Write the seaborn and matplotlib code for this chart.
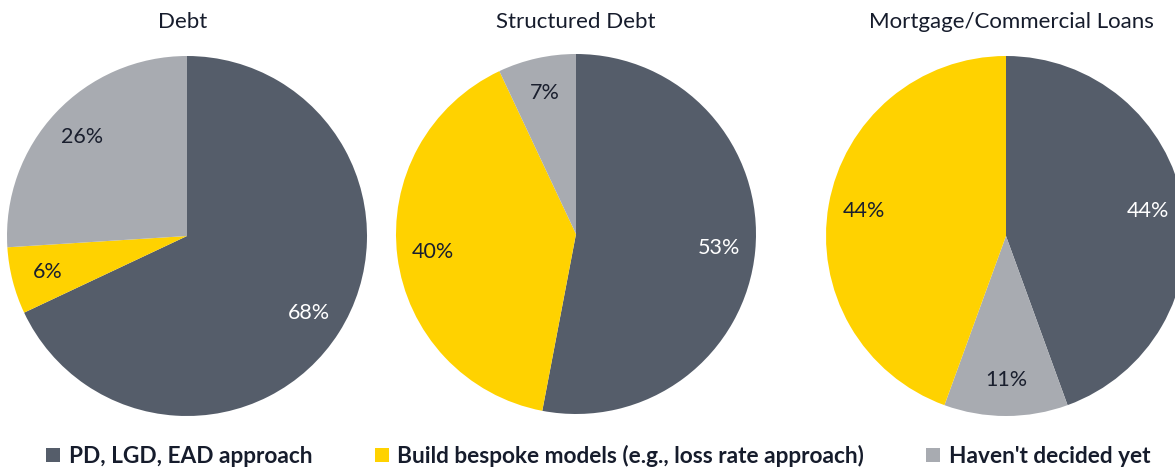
import matplotlib
matplotlib.use("Agg")
import matplotlib.pyplot as plt
import seaborn as sns
from matplotlib.lines import Line2D

sns.set_theme(style="white")
plt.rcParams['font.family'] = ['Lato', 'DejaVu Sans']

categories = ["PD, LGD, EAD approach", "Build bespoke models (e.g., loss rate approach)", "Haven't decided yet"]
titles = ["Debt", "Structured Debt", "Mortgage/Commercial Loans"]
debt = [68, 6, 26]
structured = [53, 40, 7]
mortgage = [44, 44, 11]
series = [debt, structured, mortgage]

palette = {"PD, LGD, EAD approach": "#555d6a",
           "Build bespoke models (e.g., loss rate approach)": "#ffd200",
           "Haven't decided yet": "#a8abb1"}
label_colors = {"PD, LGD, EAD approach": "white",
                "Build bespoke models (e.g., loss rate approach)": "#1a1f2e",
                "Haven't decided yet": "#1a1f2e"}
# drawing order per chart (clockwise from 12 o'clock)
orders = [[0, 1, 2], [0, 1, 2], [0, 2, 1]]
text_color = "#161c2c"

W, H = 1175, 470
fig = plt.figure(figsize=(W / 100, H / 100), dpi=100)
centers = [(187, 236), (576, 234), (1006, 236)]
title_x = [183, 576, 1011]
R = 180

for (cx, cy), tx, vals, title, order in zip(centers, title_x, series, titles, orders):
    ax = fig.add_axes([(cx - R) / W, (H - cy - R) / H, 2 * R / W, 2 * R / H])
    v = [vals[i] for i in order]
    cats = [categories[i] for i in order]
    total = sum(v)
    wedges, texts, autotexts = ax.pie(
        v, colors=[palette[c] for c in cats], startangle=90, counterclock=False,
        autopct=lambda p, t=total: f"{p * t / 100:.0f}%", pctdistance=0.8,
        radius=1, wedgeprops=dict(linewidth=0))
    for at, c in zip(autotexts, cats):
        at.set_color(label_colors[c])
        at.set_fontsize(15.5)
    ax.set_xlim(-1, 1)
    ax.set_ylim(-1, 1)
    ax.set_aspect("equal")
    ax.axis("off")
    fig.text(tx / W, 1 - 22 / H, title, ha="center", va="center", fontsize=16, color=text_color)

handles = [Line2D([0], [0], marker="s", linestyle="none", markersize=10,
                  markerfacecolor=palette[c], markeredgewidth=0) for c in categories]
leg = fig.legend(handles, categories, loc="center", bbox_to_anchor=(0.508, 1 - 456 / H), ncol=3,
                 frameon=False, handletextpad=0.25, columnspacing=2.6, handlelength=0.9,
                 prop={"weight": "bold", "size": 16.3})
for t in leg.get_texts():
    t.set_color(text_color)

fig.savefig("out.png", dpi=100)
